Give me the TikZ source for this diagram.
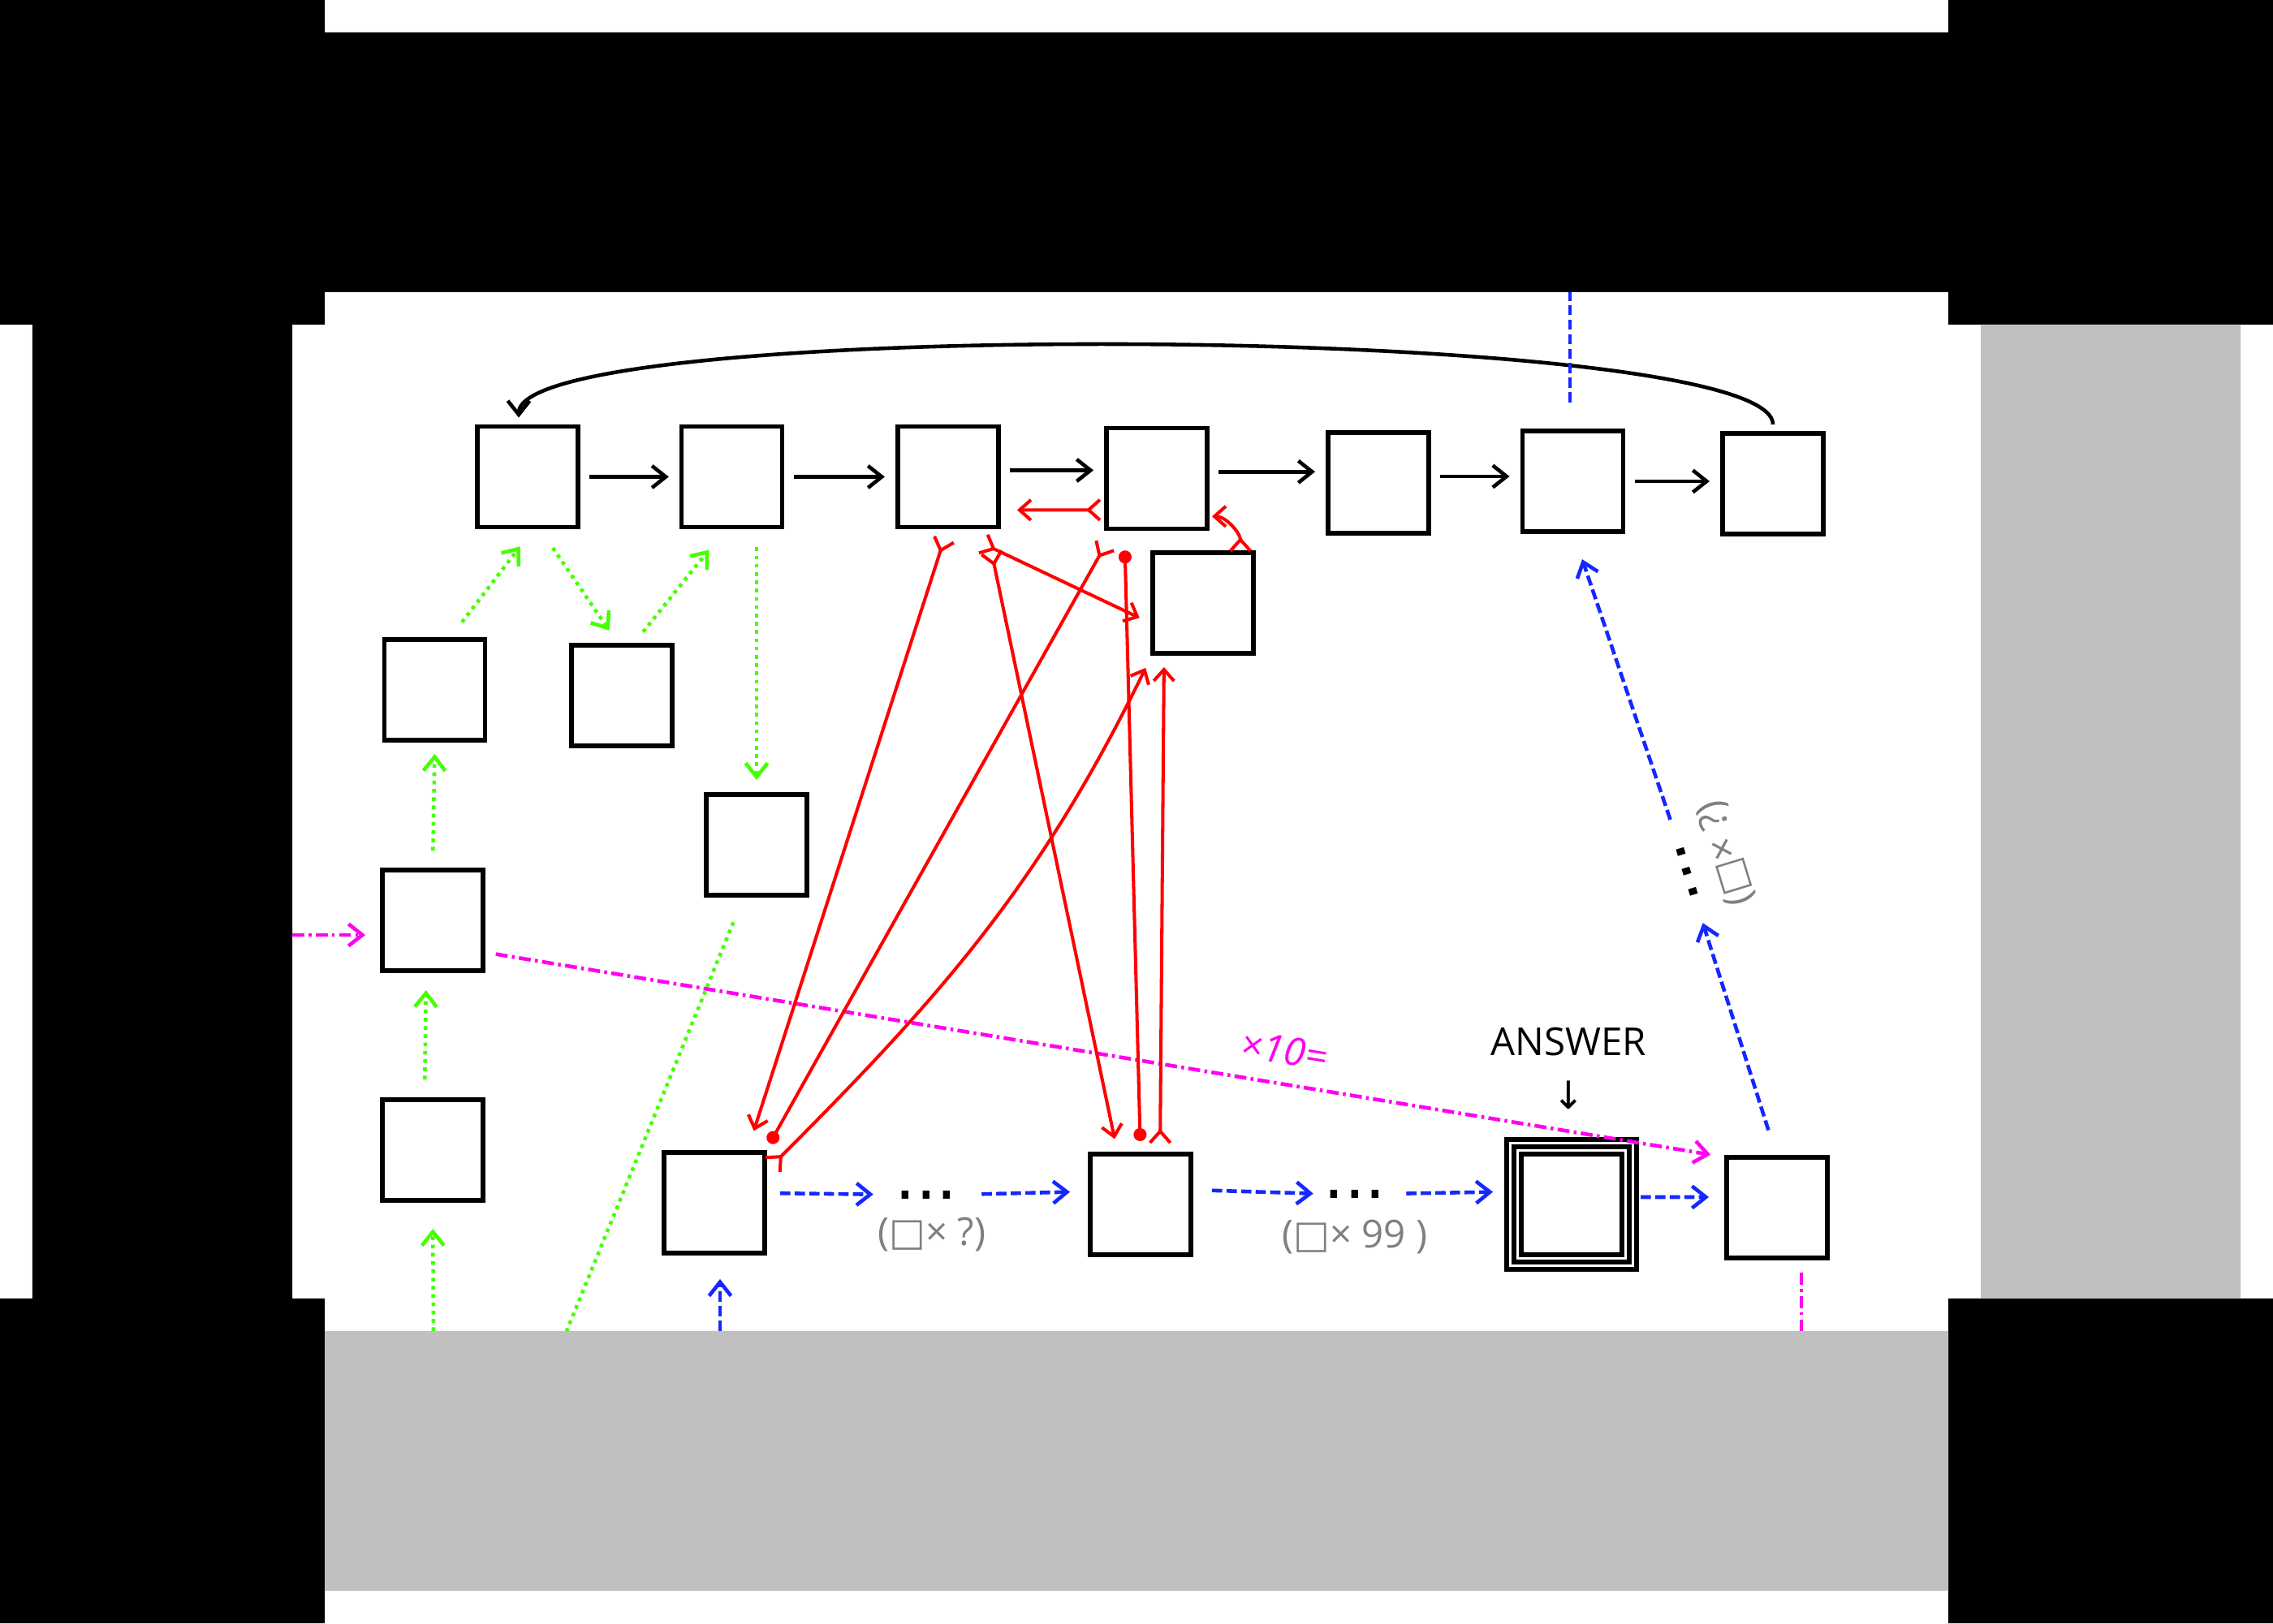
\documentclass[tikz,border=0pt]{standalone}
\usepackage{fontspec}
\setmainfont{Open Sans}
\newfontfamily\symfont{DejaVu Sans}
\usetikzlibrary{arrows.meta}
\definecolor{band}{RGB}{192,192,192}
\definecolor{grn}{RGB}{70,255,0}
\definecolor{blu}{RGB}{20,40,255}
\definecolor{mag}{RGB}{255,0,240}

\begin{document}
\begin{tikzpicture}[>={Straight Barb[length=1.7mm,width=2.7mm]}, font=\fontsize{13.5}{18.8}\selectfont]

      \useasboundingbox (0,0) rectangle (28,20);
      \fill[white] (0,0) rectangle (28,20);
      \fill[black] (0,0) rectangle (4,4) (24,0) rectangle (28,4) (0,16) rectangle (4,20) (24,16) rectangle (28,20)
        (4,16.4) rectangle (24,19.6) (0.4,4) rectangle (3.6,16);
      \fill[band] (24.4,4) rectangle (27.6,16) (4,0.4) rectangle (24,3.6);

      \begin{scope}[every node/.style={draw, line width=1.5pt, minimum size=1.24cm, inner sep=0pt, outer sep=0pt}]
        \node (1)  at (6.50,14.125) {};
        \node (2)  at (9.018,14.125) {};
        \node (3)  at (11.679,14.125) {};
        \node (4)  at (14.25,14.107) {};
        \node (5)  at (16.98,14.05) {};
        \node (6)  at (19.375,14.07) {};
        \node (7)  at (21.84,14.04) {};
        \node (8)  at (14.82,12.57) {};
        \node (9)  at (5.357,11.50) {};
        \node (10) at (7.66,11.43) {};
        \node (11) at (9.32,9.59) {};
        \node (12) at (5.33,8.66) {};
        \node (13) at (5.33,5.83) {};
        \node (14) at (8.80,5.18) {};
        \node (15) at (14.05,5.16) {};
        \node (16) at (19.36,5.16) {};
        \node (17) at (21.89,5.12) {};
      \end{scope}

      \draw[line width=1.5pt] ([shift={(-.09,-.09)}]16.south west) rectangle ([shift={(.09,.09)}]16.north east);
      \draw[line width=1.5pt] ([shift={(-.18,-.18)}]16.south west) rectangle ([shift={(.18,.18)}]16.north east);

      \begin{scope}[every node/.style={inner sep=0pt}]
        \node[font=\symfont\fontsize{23}{23}\selectfont] (18) at (11.41,5.28) {...};
        \node[font=\symfont\fontsize{23}{23}\selectfont] (19) at (16.69,5.29) {...};
        \node[font=\symfont\fontsize{23}{23}\selectfont, rotate=107] (20) at (20.78,9.26) {...};
        \node[gray] (21) at (11.48,4.79) {({\symfont □}× ?)};
        \node[gray] (22) at (16.69,4.76) {({\symfont □}× 99 )};
        \node[gray, rotate=107] (23) at (21.26,9.49) {({\symfont □}× ?)};
        \node[align=center] (24) at (19.32,6.84) {ANSWER\\{\symfont ↓}};
      \end{scope}

      \coordinate (inm)  at (3.6,8.48);
      \coordinate (ing)  at (5.34,3.6);
      \coordinate (outg) at (6.98,3.6);
      \coordinate (inb)  at (8.87,3.6);
      \coordinate (outm) at (22.19,3.6);
      \coordinate (outb) at (19.34,16.4);

      \begin{scope}[every edge/.style={draw, line width=1.3pt, ->, shorten <=1.4mm, shorten >=1.6mm}]
        \path (1) edge (1 -| 2.west);
        \path (2) edge (2 -| 3.west);
        \path ([yshift=.8mm]3.east) edge ([yshift=.8mm]3.east -| 4.west);
        \path ([yshift=.8mm]4.east) edge ([yshift=.8mm]4.east -| 5.west);
        \path ([yshift=.8mm]5.east) edge ([yshift=.8mm]5.east -| 6.west);
        \path (6) edge (6 -| 7.west);
        \path (7.north) edge[out=90, in=90, looseness=.225, shorten <=1.1mm, shorten >=1.1mm] ([xshift=-1.1mm]1.north);
      \end{scope}

      \begin{scope}[every edge/.style={draw, grn, line width=1.3pt, dash pattern=on 1.3pt off 1.6pt, ->}]
        \path (ing) edge[shorten >=3.5mm] (13.south);
        \path ([xshift=-1mm]13.north) edge[shorten <=2.5mm, shorten >=2.4mm] ([xshift=-.8mm]12.south);
        \path (12.north) edge[shorten <=2.4mm, shorten >=1.7mm] (9.south);
        \path ([xshift=1.7mm]9.north) edge[shorten <=2.7mm, shorten >=3mm] ([xshift=.9mm]1.south);
        \path ([xshift=1.35mm]1.south) edge[shorten <=3.1mm, shorten >=2.2mm] ([xshift=-.3mm]10.north);
        \path ([xshift=1.3mm]10.north) edge[shorten <=2.1mm, shorten >=3.6mm] ([xshift=-.6mm]2.south);
        \path (11.north |- 2.south) edge[shorten <=2.5mm, shorten >=1.8mm] (11.north);
        \path ([xshift=-1.5mm]11.south) edge[-, shorten <=3.6mm] (outg);
      \end{scope}

      \begin{scope}[every edge/.style={draw, blu, line width=1.3pt, dash pattern=on 3.6pt off 1.5pt, ->}]
        \path (inb) edge[shorten >=3.2mm] (inb |- 14.south);
        \path ([yshift=1.2mm]14.east) edge[shorten <=1.9mm, shorten >=2.6mm] (18.west);
        \path (18.east) edge[shorten <=2.9mm, shorten >=2.5mm] ([yshift=1.6mm]15.west);
        \path ([yshift=1.8mm]15.east) edge[shorten <=2.6mm, shorten >=1.2mm] (19.west);
        \path (19.east) edge[shorten <=2.4mm, shorten >=3.5mm] ([yshift=1.6mm]16.west);
        \path ([yshift=.9mm]16.east) edge[shorten <=2.3mm, shorten >=2.2mm] ([yshift=1.3mm]17.west);
        \path (17.north) edge[shorten <=3.5mm, shorten >=2.7mm] (20.west);
        \path (20.east) edge[shorten <=2.8mm, shorten >=3.6mm] (6.south);
        \path (outb |- 6.north) edge[-, shorten <=3.5mm] (outb);
      \end{scope}

      \begin{scope}[every edge/.style={draw, mag, line width=1.3pt, dash pattern=on 4.2pt off 1.5pt on 1pt off 1.5pt, ->}]
        \path (inm) edge[shorten >=2.1mm] (inm -| 12.west);
        \path ([yshift=-3.9mm]12.east) edge[shorten <=1.6mm, shorten >=2mm]
          node[pos=.64, above=1mm, sloped, text=mag, font=\fontsize{13.5}{18.8}\selectfont\itshape] (25) {×10=} (17.north west);
        \path (outm |- 17.south) edge[-, shorten <=1.8mm] (outm);
      \end{scope}

      \begin{scope}[yhead/.style={{Straight Barb[reversed,length=1.4mm,width=2.5mm]}-{Straight Barb[length=1.4mm,width=2.5mm]}},
                    ydot/.style={{Straight Barb[reversed,length=1.4mm,width=2.5mm]}-{Circle[length=1.6mm]}},
                    dotdot/.style={{Circle[length=1.6mm]}-{Circle[length=1.6mm]}},
                    every edge/.style={draw, red, line width=1.15pt, yhead}]
        \path ([yshift=-3.9mm]4.west) edge[shorten <=.6mm, shorten >=2.3mm] ([yshift=-4.1mm]3.east);
        \path ([xshift=4.6mm]8.north) edge[out=90, in=0, shorten >=.6mm] ([yshift=-4.7mm]4.east);
        \path (3.south) edge[shorten <=1.4mm, shorten >=2.8mm] ([xshift=4mm]14.north);
        \path ([xshift=4.7mm]3.south) edge[shorten <=3mm, shorten >=1.9mm] ([xshift=-2.8mm]15.north);
        \path (3.south) edge[shorten <=4.6mm, shorten >=1.8mm] ([yshift=-2.6mm]8.west);
        \path ([xshift=-5.2mm]4.south) edge[ydot, shorten <=2.2mm, shorten >=1.3mm] (14.north east);
        \path ([xshift=-4mm]4.south) edge[dotdot, shorten <=2.7mm, shorten >=1.6mm] (15.north);
        \path ([yshift=3.7mm]14.east) edge[out=45, in=-116, shorten <=1.2mm, shorten >=2mm] (8.south west);
        \path ([xshift=2.4mm]15.north) edge[shorten <=1.2mm, shorten >=1.7mm] ([xshift=-4.8mm]8.south);
      \end{scope}

    \end{tikzpicture}
\end{document}
